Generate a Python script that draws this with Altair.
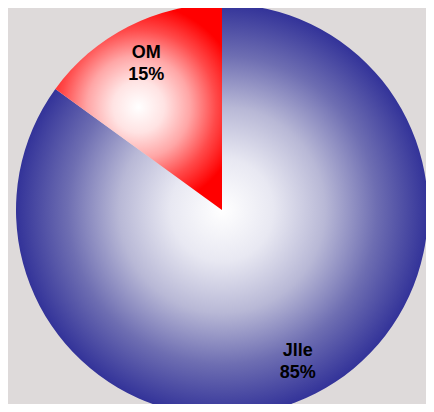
import altair as alt
import pandas as pd

categories = ["Jlle", "OM"]
shares = [85, 15]
labels = ["Jlle\n85%", "OM\n15%"]
order = [0, 1]

df = pd.DataFrame({"cat": categories, "share": shares, "label": labels, "order": order})

CX, CY = 214, 202
R = 206
TWO_PI = 6.283185307179586

blue_grad = {"gradient": "radial", "x1": 0.5, "y1": 0.5, "r1": 0, "x2": 0.5, "y2": 0.5, "r2": 0.5,
             "stops": [{"offset": 0, "color": "#ffffff"},
                       {"offset": 0.25, "color": "#e8e8f2"},
                       {"offset": 0.5, "color": "#b8b8d6"},
                       {"offset": 0.75, "color": "#6e6eb2"},
                       {"offset": 1, "color": "#333399"}]}
red_grad = {"gradient": "radial", "x1": 0.5, "y1": 0.5, "r1": 0, "x2": 0.5, "y2": 0.5, "r2": 0.5,
            "stops": [{"offset": 0, "color": "#ffffff"},
                      {"offset": 0.25, "color": "#ffe3e3"},
                      {"offset": 0.5, "color": "#ffa6a6"},
                      {"offset": 0.75, "color": "#ff4a4a"},
                      {"offset": 1, "color": "#ff0000"}]}

theta_scale = alt.Scale(domain=[0, 100], range=[0, TWO_PI])

base = alt.Chart(df).transform_window(
    cum="sum(share)", sort=[{"field": "order"}]
).transform_calculate(
    start="datum.cum - datum.share",
    mid="datum.cum - datum.share / 2",
)

blue = base.transform_filter(alt.datum.cat == "Jlle").mark_arc(
    radius=R, fill=blue_grad, strokeWidth=0
).encode(
    theta=alt.Theta("start:Q", scale=theta_scale),
    theta2="cum:Q",
    x=alt.value(CX), y=alt.value(CY),
)

red = base.transform_filter(alt.datum.cat == "OM").mark_arc(
    radius=R, fill=red_grad, strokeWidth=0
).encode(
    theta=alt.Theta("start:Q", scale=theta_scale),
    theta2="cum:Q",
    x=alt.value(CX), y=alt.value(CY),
)

text = base.mark_text(
    radius=167, font="Liberation Sans", fontSize=18, fontWeight="bold",
    color="black", align="center", baseline="middle", lineBreak="\n", lineHeight=22,
    dy=-8,
).encode(
    theta=alt.Theta("mid:Q", scale=theta_scale),
    text="label:N",
    x=alt.value(CX), y=alt.value(CY),
)

chart = alt.layer(blue, red, text).properties(
    width=418, height=396, padding=0,
    autosize=alt.AutoSizeParams(type="none"),
    background="#dedada",
).configure_view(strokeWidth=0)

chart.save("out.html", embed_options={"renderer": "svg", "actions": False})
